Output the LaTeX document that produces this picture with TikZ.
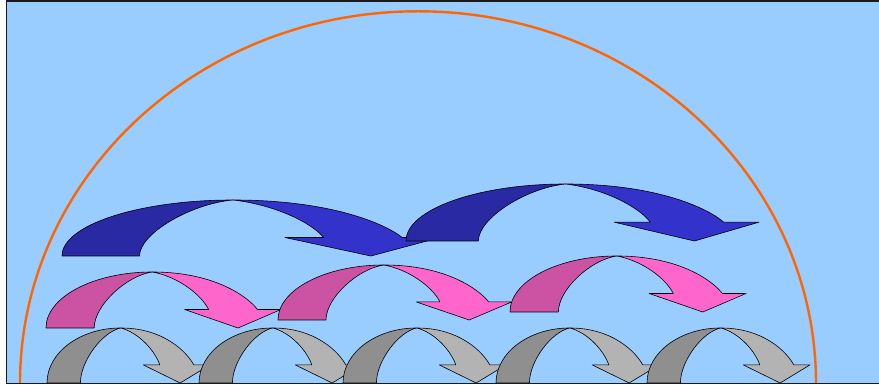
\documentclass[tikz,border=0pt]{standalone}
\usepackage{xcolor}
\usepackage{tikz}

\definecolor{skyfill}{HTML}{99CCFF}
\definecolor{rimorange}{HTML}{FF6600}
\definecolor{blueback}{HTML}{2929A3}
\definecolor{bluefront}{HTML}{3333CC}
\definecolor{pinkback}{HTML}{CC52A3}
\definecolor{pinkfront}{HTML}{FF66CC}
\definecolor{grayback}{HTML}{8F8F8F}
\definecolor{grayfront}{HTML}{B3B3B3}

\begin{document}
\begin{tikzpicture}[
  x=1pt, y=1pt,
  backdrop/.style={fill=skyfill, draw=black!90, line width=1.2pt},
  rim/.style={draw=rimorange, line width=2.4pt},
  outline/.style={draw=black, line width=0.6pt, line join=round},
  pics/bend arrow/.style 2 args={code={
    \filldraw[outline, fill=#1] (0,0) .. controls (0,0.552) and (0.2025,1) .. (0.452,1)
      .. controls (0.34,0.93) and (0.205,0.4) .. (0.205,0) -- cycle;
    \filldraw[outline, fill=#2] (0.452,1) .. controls (0.72,1) and (0.86,0.55) .. (0.9,0.33)
      -- (1,0.33) -- (0.817,0) -- (0.59,0.33) -- (0.692,0.33)
      .. controls (0.66,0.6) and (0.56,0.92) .. (0.452,1) -- cycle;
  }}
]
\clip (0,0) rectangle (879,385);
\fill[white] (0,0) rectangle (879,385);
\draw[backdrop] (6.5,1.7) rectangle (890,384);

% orange half ellipse
\draw[rim] (20,1.7) arc[start angle=180, end angle=0, x radius=398, y radius=372];

% bottom row
\foreach \gx in {47,199,343,496,647}
  \pic[xscale=163, yscale=55] at (\gx,2) {bend arrow={grayback}{grayfront}};

% middle row
\pic[xscale=235, yscale=56] at (46,57) {bend arrow={pinkback}{pinkfront}};
\pic[xscale=234, yscale=55] at (278,65) {bend arrow={pinkback}{pinkfront}};
\pic[xscale=236, yscale=56] at (510,73) {bend arrow={pinkback}{pinkfront}};

% top row
\pic[xscale=378, yscale=56] at (62,129) {bend arrow={blueback}{bluefront}};
\pic[xscale=353, yscale=57] at (406,144) {bend arrow={blueback}{bluefront}};

\draw[black!90, line width=1.2pt] (6.5,1.7) -- (890,1.7);
\end{tikzpicture}
\end{document}
